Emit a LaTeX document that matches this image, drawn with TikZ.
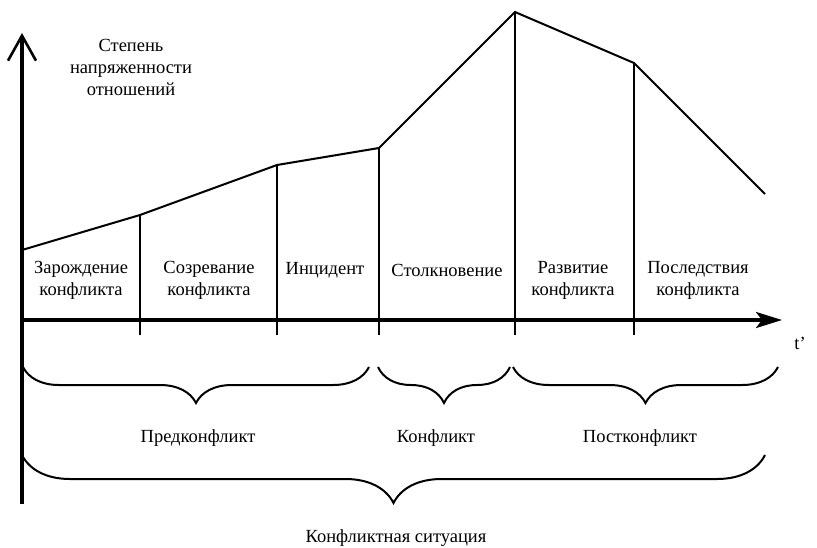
\documentclass[tikz,border=0pt]{standalone}
\usepackage{fontspec}
\setmainfont{Liberation Serif}
\newfontfamily\tnrfont{Liberation Serif}
\usetikzlibrary{arrows.meta,decorations.pathreplacing}
\begin{document}
\begin{tikzpicture}[x=1pt,y=-1pt,
  lbl/.style={font=\tnrfont\fontsize{18.5}{22}\selectfont, align=center, inner sep=0pt},
  curve/.style={line width=2pt},
  sepline/.style={line width=2.5pt},
  axis/.style={line width=3.2pt},
  brc/.style={decorate, decoration={brace, mirror, amplitude=#1}, line width=2pt}]
\useasboundingbox (0,0) rectangle (817,547);
% axes
\coordinate (O) at (22,320);
\coordinate (ytop) at (22,33);
\coordinate (ybot) at (22,504);
\coordinate (xend) at (782,320);
\draw[axis, -{Straight Barb[length=25pt,width=28pt,line width=2.6pt]}] (ybot) -- (ytop);
\draw[axis, -{Stealth[length=26pt,width=16pt,inset=6pt]}] (O) -- (xend);
% curve points
\coordinate (c0) at (22,250);
\coordinate (c1) at (140,215);
\coordinate (c2) at (277,165);
\coordinate (c3) at (379,148);
\coordinate (c4) at (515,12);
\coordinate (c5) at (634,63);
\coordinate (c6) at (765,194);
\draw[curve, line join=miter] (c0) -- (c1) -- (c2) -- (c3) -- (c4) -- (c5) -- (c6);
% separators
\coordinate (b1) at (140,335);
\coordinate (b2) at (277,335);
\coordinate (b3) at (379,335);
\coordinate (b4) at (515,335);
\coordinate (b5) at (634,335);
\draw[sepline] (c1) -- (b1);
\draw[sepline] (c2) -- (b2);
\draw[sepline] (c3) -- (b3);
\draw[sepline] (c4) -- (b4);
\draw[sepline] (c5) -- (b5);
% labels
\node[lbl] (yl) at (131,67) {Степень\\напряженности\\отношений};
\node[lbl] (zar) at (81,280) {Зарождение\\конфликта};
\node[lbl] (soz) at (209,280) {Созревание\\конфликта};
\node[lbl] (inc) at (325,270) {Инцидент};
\node[lbl] (stol) at (447,270) {Столкновение};
\node[lbl] (razv) at (573,280) {Развитие\\конфликта};
\node[lbl] (posl) at (698,280) {Последствия\\конфликта};
\node[lbl] (tt) at (800,343) {t’};
% braces
\coordinate (p1) at (23,367);
\coordinate (p2) at (369,367);
\coordinate (k1) at (378,367);
\coordinate (k2) at (510,367);
\coordinate (q1) at (513,367);
\coordinate (q2) at (778,367);
\coordinate (s1) at (22,455);
\coordinate (s2) at (765,455);
\draw[brc=36pt] (p1) -- (p2);
\draw[brc=36pt] (k1) -- (k2);
\draw[brc=36pt] (q1) -- (q2);
\draw[brc=48pt] (s1) -- (s2);
\node[lbl] (pre) at (198,438) {Предконфликт};
\node[lbl] (kon) at (436,438) {Конфликт};
\node[lbl] (post) at (640,438) {Постконфликт};
\node[lbl] (sit) at (396,538) {Конфликтная ситуация};
\end{tikzpicture}
\end{document}
